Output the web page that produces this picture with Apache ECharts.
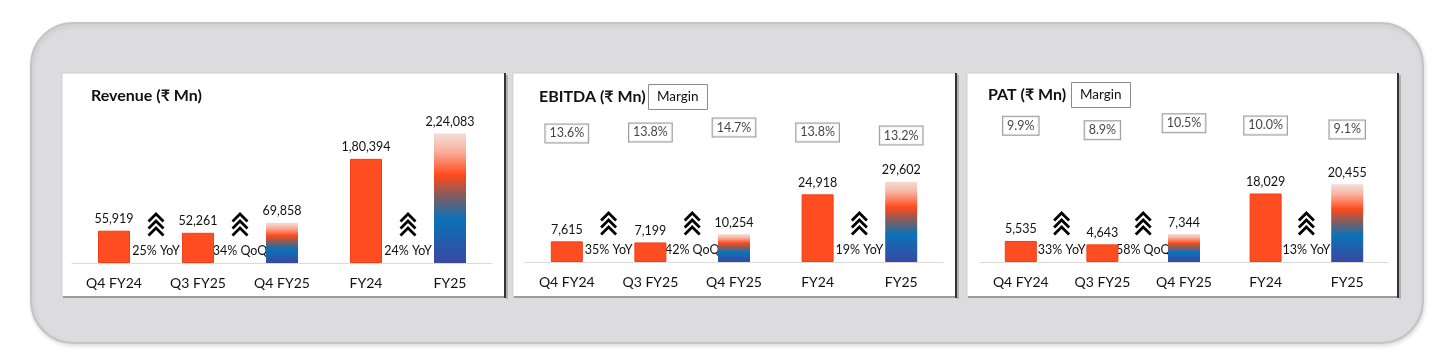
<!DOCTYPE html>
<html>
<head>
<meta charset="utf-8">
<script src="https://cdn.jsdelivr.net/npm/echarts@6/dist/echarts.min.js"></script>
<style>
html,body{margin:0;padding:0;background:#fff;}
#c{width:1456px;height:350px;}
</style>
</head>
<body>
<div id="c"></div>
<script>
// ---- data ----
const categories = ['Q4 FY24', 'Q3 FY25', 'Q4 FY25', 'FY24', 'FY25'];
const revenue = [55919, 52261, 69858, 180394, 224083];
const ebitda = [7615, 7199, 10254, 24918, 29602];
const pat = [5535, 4643, 7344, 18029, 20455];
const ebitdaMargin = [13.6, 13.8, 14.7, 13.8, 13.2];
const patMargin = [9.9, 8.9, 10.5, 10.0, 9.1];
const growthSlots = [0, 1, 3]; // growth note sits after these category indices
const revenueGrowth = ['25% YoY', '34% QoQ', '24% YoY'];
const ebitdaGrowth = ['35% YoY', '42% QoQ', '19% YoY'];
const patGrowth = ['33% YoY', '58% QoQ', '13% YoY'];
const highlighted = [2, 4]; // bars drawn with gradient
const titles = ['Revenue (₹ Mn)', 'EBITDA (₹ Mn)', 'PAT (₹ Mn)'];

// ---- styling ----
const FONT = "Lato, 'Noto Sans', 'DejaVu Sans', sans-serif";
const ORANGE = '#ff4d22';
const grad = () => new echarts.graphic.LinearGradient(0, 0, 0, 1, [
  {offset: 0, color: '#f4ddd7'},
  {offset: 0.13, color: '#f9b3a1'},
  {offset: 0.32, color: '#ff4a1c'},
  {offset: 0.47, color: '#8a5b5a'},
  {offset: 0.66, color: '#0a72b8'},
  {offset: 1, color: '#3a48a0'}
]);

function inr(n) {
  const s = String(Math.round(n));
  if (s.length <= 3) return s;
  const last3 = s.slice(-3);
  const rest = s.slice(0, -3).replace(/\B(?=(\d{2})+(?!\d))/g, ',');
  return rest + ',' + last3;
}

function barData(vals) {
  return vals.map((v, i) => highlighted.includes(i)
    ? {value: v, itemStyle: {color: grad(), borderWidth: 0}}
    : v);
}

function barSeries(vals, idx, yIdx) {
  return {
    type: 'bar', xAxisIndex: idx, yAxisIndex: yIdx, barWidth: 32,
    data: barData(vals),
    itemStyle: {color: ORANGE, borderColor: '#f23d16', borderWidth: 1},
    label: {show: true, position: 'top', distance: 5, fontFamily: FONT, fontSize: 12.5,
      color: '#111', formatter: p => inr(p.value)},
    silent: true, animation: false
  };
}

function growthSeries(texts, idx, yIdx) {
  return {
    type: 'custom', xAxisIndex: idx, yAxisIndex: yIdx, animation: false, silent: true,
    data: growthSlots.map((s, i) => [s, 0, texts[i]]),
    renderItem: function (params, api) {
      const pt = api.coord([api.value(0), 0]);
      const bw = api.size([1, 0])[0];
      const cx = pt[0] + bw / 2, base = pt[1];
      const children = [];
      for (let k = 0; k < 3; k++) {
        const ty = base - 49 + k * 7;
        children.push({type: 'polyline',
          shape: {points: [[cx - 7.5, ty + 7.5], [cx, ty], [cx + 7.5, ty + 7.5]]},
          style: {stroke: '#000', lineWidth: 2.8, fill: null}});
      }
      children.push({type: 'text', x: cx, y: base - 12,
        style: {text: texts[params.dataIndex], fontFamily: FONT, fontSize: 12.5,
          fill: '#111', align: 'center', verticalAlign: 'middle'}});
      return {type: 'group', children: children};
    }
  };
}

function marginSeries(vals, idx, yIdx) {
  return {
    type: 'scatter', xAxisIndex: idx, yAxisIndex: yIdx, symbolSize: 0.1,
    itemStyle: {color: 'transparent'}, data: vals, animation: false, silent: true,
    label: {show: true, position: 'inside', formatter: p => p.value.toFixed(1) + '%',
      fontFamily: FONT, fontSize: 12.5, color: '#111', backgroundColor: '#ffffff',
      borderColor: '#7f7f7f', borderWidth: 1, padding: [2, 4], lineHeight: 14}
  };
}

const grids = [
  {left: 72, top: 110, width: 420, height: 153},
  {left: 525, top: 110, width: 418, height: 152},
  {left: 980, top: 110, width: 408, height: 152}
];

const xAxes = grids.map((g, i) => ({
  type: 'category', gridIndex: i, data: categories,
  axisLine: {lineStyle: {color: '#d9d9d9', width: 1}},
  axisTick: {show: false},
  axisLabel: {fontFamily: FONT, fontSize: 14, color: '#111', margin: 13}
}));

const yAxes = [
  {type: 'value', gridIndex: 0, min: 0, max: 265000, show: false},
  {type: 'value', gridIndex: 1, min: 0, max: 56000, show: false},
  {type: 'value', gridIndex: 1, min: -10.5, max: 18, show: false},
  {type: 'value', gridIndex: 2, min: 0, max: 40000, show: false},
  {type: 'value', gridIndex: 2, min: -21, max: 13.5, show: false}
];

const panels = [
  {x: 62, y: 73, w: 443, h: 224},
  {x: 513, y: 73, w: 443, h: 224},
  {x: 967, y: 73, w: 431, h: 224}
];

const graphic = [
  {type: 'rect', z: -10, shape: {x: 31, y: 23, width: 1392, height: 320, r: 42},
    style: {fill: '#dcdbde', stroke: '#c4c4c6', lineWidth: 2,
      shadowColor: 'rgba(0,0,0,0.12)', shadowBlur: 4, shadowOffsetX: 1, shadowOffsetY: 2}}
];
panels.forEach(p => {
  graphic.push({type: 'rect', z: -9, shape: {x: p.x, y: p.y, width: p.w, height: p.h},
    style: {fill: '#fff', stroke: '#cfcfcf', lineWidth: 1}});
  graphic.push({type: 'line', z: -8, shape: {x1: p.x + 1, y1: p.y + p.h, x2: p.x + p.w, y2: p.y + p.h},
    style: {stroke: '#9b9b9b', lineWidth: 2}});
  graphic.push({type: 'line', z: -8, shape: {x1: p.x + p.w, y1: p.y, x2: p.x + p.w, y2: p.y + p.h + 1},
    style: {stroke: '#333', lineWidth: 2}});
  graphic.push({type: 'line', z: -8, shape: {x1: p.x + p.w + 2, y1: p.y + 2, x2: p.x + p.w + 2, y2: p.y + p.h + 2},
    style: {stroke: '#b0b0b0', lineWidth: 2}});
});

const titleStyle = {fontFamily: FONT, fontSize: 16, fontWeight: 'bold', color: '#111'};
const marginStyle = {fontFamily: FONT, fontSize: 13.5, fontWeight: 'normal', color: '#111', lineHeight: 16};
const title = [
  {text: titles[0], left: 91, top: 88, padding: 0, textStyle: titleStyle},
  {text: titles[1], left: 539, top: 89, padding: 0, textStyle: titleStyle},
  {text: titles[2], left: 988, top: 87, padding: 0, textStyle: titleStyle},
  {text: 'Margin', left: 648, top: 84, padding: [5, 9], borderColor: '#8c8c8c', borderWidth: 1,
    backgroundColor: '#fff', textStyle: marginStyle},
  {text: 'Margin', left: 1071, top: 82, padding: [5, 9], borderColor: '#8c8c8c', borderWidth: 1,
    backgroundColor: '#fff', textStyle: marginStyle}
];

const chart = echarts.init(document.getElementById('c'), null, {renderer: 'canvas'});
chart.setOption({
  animation: false,
  backgroundColor: '#fff',
  title: title,
  graphic: graphic,
  grid: grids,
  xAxis: xAxes,
  yAxis: yAxes,
  series: [
    barSeries(revenue, 0, 0),
    growthSeries(revenueGrowth, 0, 0),
    barSeries(ebitda, 1, 1),
    marginSeries(ebitdaMargin, 1, 2),
    growthSeries(ebitdaGrowth, 1, 1),
    barSeries(pat, 2, 3),
    marginSeries(patMargin, 2, 4),
    growthSeries(patGrowth, 2, 3)
  ]
});
</script>
</body>
</html>
